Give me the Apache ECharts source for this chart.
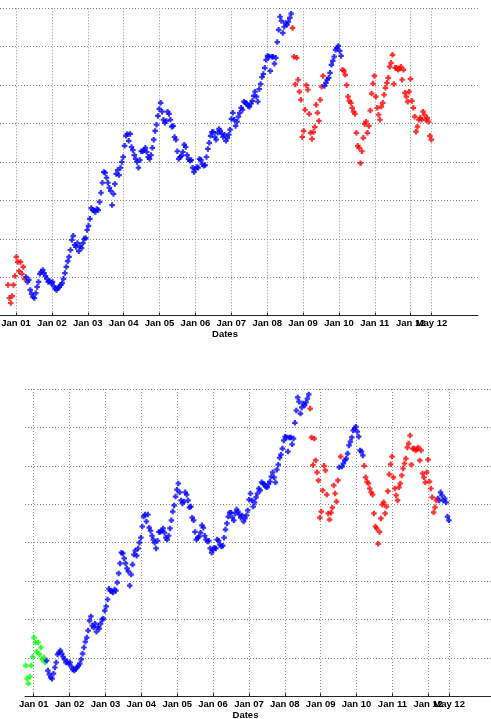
<!DOCTYPE html>
<html><head><meta charset="utf-8">
<script src="https://cdn.jsdelivr.net/npm/echarts@6/dist/echarts.min.js"></script>
<style>html,body{margin:0;padding:0;background:#fff}#c{width:491px;height:719px}</style>
</head><body><div id="c"></div>
<script>
// Sampling: regular (about bi-weekly) series, first and last dates in decimal years
const firstDate = 2000.777;
const lastDate = 2012.575;

// Series values
const values = [
80,46,33,51,80,103,153,140,116,140,109,127,96,
101,88,93,67,57,49,46,59,75,88,109,114,119,111,103,96,88,
90,85,88,77,70,67,72,75,80,85,96,111,127,142,153,171,197,208,184,179,
189,168,181,176,189,200,202,223,234,252,280,275,273,270,278,275,296,320,346,374,
372,359,346,333,325,288,317,343,369,379,366,385,400,413,442,468,473,455,473,439,
431,418,408,400,385,405,428,428,431,437,426,413,408,418,437,458,481,497,520,538,
554,531,510,502,507,531,525,510,492,494,465,458,428,408,413,416,426,445,439,418,
408,403,405,385,374,382,387,385,408,405,395,390,392,413,434,450,468,478,478,465,
458,476,486,481,473,465,471,455,463,471,484,512,528,510,494,505,518,528,541,536,
557,554,552,546,544,552,559,572,583,570,557,590,603,621,629,645,666,676,674,637,
674,674,656,671,712,744,778,767,736,752,762,757,765,775,786,749,674,602,671,614,
583,562,465,481,536,600,588,525,476,460,478,491,549,528,507,562,596,624,598,606,
614,619,632,653,663,674,692,697,702,689,676,640,637,627,600,570,559,554,541,531,
525,476,442,437,397,428,463,499,505,476,494,534,578,604,624,570,541,523,510,544,
554,575,593,606,619,648,658,679,603,645,645,640,643,648,614,640,580,570,557,583,
616,559,541,518,479,492,510,515,510,531,523,510,515,505,468,458
];

// Regime classification (runs) for each panel
const regimes1 = ['red','blue','red','blue','red'];
const runs1 = [13,192,23,13,65];
const regimes2 = ['green','blue','red','blue','red','blue','red','blue'];
const runs2 = [15,190,21,1,1,16,53,9];

// X tick positions (decimal years) and labels
const janTicks = [2001,2002,2003,2004,2005,2006,2007,2008,2009,2010,2011,2012];
const janLabels = ['Jan 01','Jan 02','Jan 03','Jan 04','Jan 05','Jan 06','Jan 07','Jan 08','Jan 09','Jan 10','Jan 11','Jan 12'];
const endTicks = [2012.58];
const endLabels = ['May 12'];

// Y scale
const yMin = 0, yMax = 800, yStep = 100;

const palette = {blue:'#0000ff', red:'#ff0000', green:'#00ff00'};
const plus = 'path://M0,1.5H5V3.5H0Z M1.5,0H3.5V5H1.5Z';
const font = '"Liberation Sans", Arial, Helvetica, sans-serif';
const gridLine = {color: '#8c8c8c', type: [1, 2], width: 1};

const step = (lastDate - firstDate) / (values.length - 1);
const dates = values.map((v, i) => firstDate + i * step);

function expand(regimes, runs) {
  const out = [];
  regimes.forEach((r, k) => { for (let j = 0; j < runs[k]; j++) out.push(r); });
  return out;
}

function buildSeries(regimes, runs, idx) {
  const lab = expand(regimes, runs);
  const order = [];
  regimes.forEach(r => { if (order.indexOf(r) < 0) order.push(r); });
  return order.map(col => ({
    type: 'scatter',
    xAxisIndex: idx, yAxisIndex: idx,
    symbol: plus, symbolSize: 5.5,
    itemStyle: {color: palette[col]},
    emphasis: {disabled: true},
    silent: true,
    data: values.map((v, i) => lab[i] === col ? [dates[i], v] : null).filter(d => d)
  }));
}

function makeFmt(ticks, labels) {
  return function (v) {
    const k = ticks.findIndex(t => Math.abs(t - v) < 1e-6);
    return k >= 0 ? labels[k] : '';
  };
}

function xAxis(idx, min, max, ticks, labels, withLine, padRight) {
  const ax = {
    type: 'value', gridIndex: idx, min: min, max: max,
    axisLine: {show: withLine, onZero: false, lineStyle: {color: '#262626', width: 1}},
    axisTick: {show: true, inside: true, length: 3, customValues: ticks, lineStyle: {color: '#262626', width: 1}},
    axisLabel: {customValues: ticks, formatter: makeFmt(ticks, labels), margin: 3, hideOverlap: false,
      showMinLabel: true, showMaxLabel: true, verticalAlign: 'top',
      color: '#000', fontWeight: 'bold', fontSize: 9.5, fontFamily: font},
    splitLine: {show: true, lineStyle: gridLine}
  };
  if (padRight !== undefined) {
    ax.name = 'Dates';
    ax.nameLocation = 'middle';
    ax.nameGap = 13;
    ax.nameTextStyle = {color: '#000', fontWeight: 'bold', fontSize: 9.5, fontFamily: font, padding: [0, padRight, 0, 0]};
  }
  return ax;
}

function yAxis(idx, visible) {
  return {
    type: 'value', gridIndex: idx, min: yMin, max: yMax, interval: yStep,
    axisLine: {show: false}, axisTick: {show: false}, axisLabel: {show: false},
    splitLine: {show: visible, lineStyle: gridLine}
  };
}

const g1 = {left: 0, top: 8.3, width: 478, height: 307.4, containLabel: false, outerBoundsMode: 'none'};
const g2 = {left: 25, top: 389, width: 466, height: 307.3, containLabel: false, outerBoundsMode: 'none'};
const x1 = [2000.554, 2013.876];
const x2 = [2000.7575, 2013.749];

const chart = echarts.init(document.getElementById('c'), null, {renderer: 'canvas'});
chart.setOption({
  animation: false,
  backgroundColor: '#fff',
  grid: [g1, g2, g1, g2],
  xAxis: [
    xAxis(0, x1[0], x1[1], janTicks, janLabels, true, 28),
    xAxis(1, x2[0], x2[1], janTicks, janLabels, true, 25),
    xAxis(2, x1[0], x1[1], endTicks, endLabels, false),
    xAxis(3, x2[0], x2[1], endTicks, endLabels, false)
  ],
  yAxis: [yAxis(0, true), yAxis(1, true), yAxis(2, false), yAxis(3, false)],
  series: buildSeries(regimes1, runs1, 0).concat(buildSeries(regimes2, runs2, 1))
});
</script>
</body></html>
